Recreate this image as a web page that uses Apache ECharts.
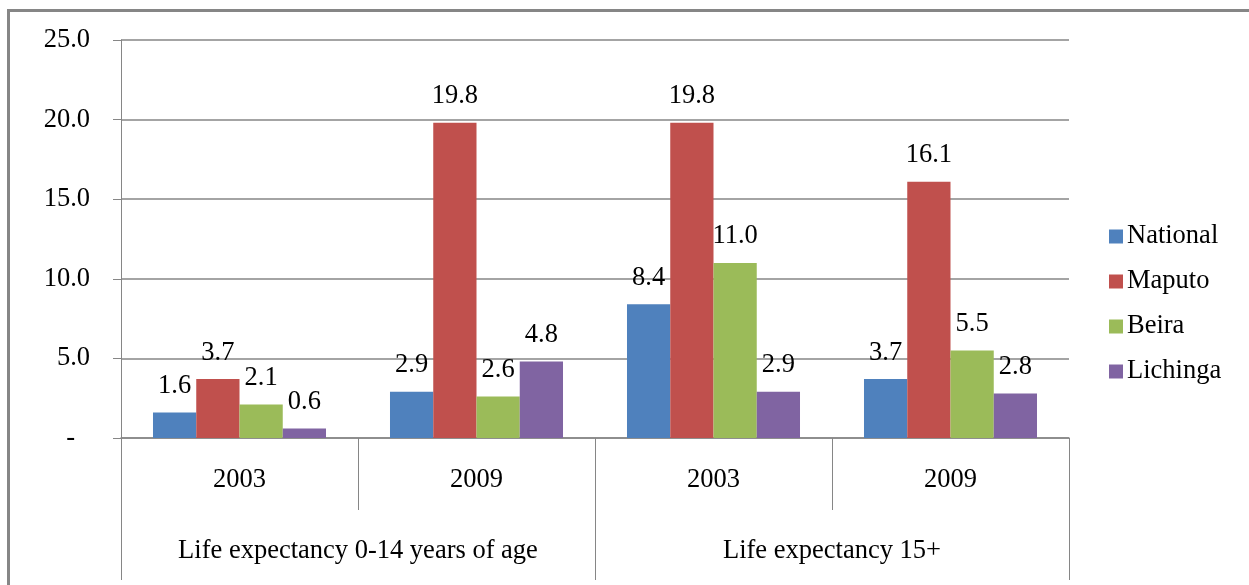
<!DOCTYPE html>
<html>
<head>
<meta charset="utf-8">
<style>
  html, body { margin: 0; padding: 0; background: #fff; }
  #chart { width: 1249px; height: 585px; }
</style>
<script src="https://cdn.jsdelivr.net/npm/echarts@6/dist/echarts.min.js"></script>
</head>
<body>
<div id="chart"></div>
<script>
  // years (first level) and groups (second level) of the category axis
  const years = ['2003', '2009', '2003', '2009'];
  const groups = ['Life expectancy 0-14 years of age', 'Life expectancy 15+'];
  const national = [1.6, 2.9, 8.4, 3.7];
  const maputo = [3.7, 19.8, 19.8, 16.1];
  const beira = [2.1, 2.6, 11.0, 5.5];
  const lichinga = [0.6, 4.8, 2.9, 2.8];

  const font = 'Liberation Serif';
  const fs = 26.5;
  const grey = '#868686';

  function makeSeries(name, data, color) {
    return {
      name: name,
      type: 'bar',
      xAxisIndex: 0,
      data: data,
      barGap: 0,
      barCategoryGap: '27%',
      itemStyle: { color: color },
      label: {
        show: true,
        position: 'top',
        distance: 13,
        color: '#000',
        fontFamily: font,
        fontSize: fs,
        formatter: (p) => p.value.toFixed(1)
      }
    };
  }

  let myChart = echarts.init(document.getElementById('chart'));
  myChart.setOption({
    animation: false,
    textStyle: { fontFamily: font },
    graphic: [{
      type: 'rect',
      shape: { x: 8.5, y: 10.5, width: 1400, height: 800 },
      style: { fill: 'none', stroke: grey, lineWidth: 3 }
    }],
    grid: { left: 121, right: 180, top: 40, bottom: 147 },
    legend: {
      orient: 'vertical',
      left: 1104,
      top: 218,
      padding: 5,
      itemWidth: 14,
      itemHeight: 14,
      itemGap: 18,
      icon: 'rect',
      textStyle: { color: '#000', fontFamily: font, fontSize: fs, lineHeight: 26, padding: [0, 0, 0, -1] },
      data: ['National', 'Maputo', 'Beira', 'Lichinga']
    },
    xAxis: [{
      type: 'category',
      position: 'bottom',
      data: years,
      axisLine: { lineStyle: { color: grey, width: 1.5 } },
      axisTick: { show: true, interval: 0, length: 72, lineStyle: { color: grey } },
      axisLabel: { interval: 0, margin: 29, color: '#000', fontFamily: font, fontSize: fs }
    }, {
      type: 'category',
      position: 'bottom',
      data: groups,
      axisLine: { show: false },
      axisTick: { show: true, interval: 0, length: 142, lineStyle: { color: grey } },
      axisLabel: { interval: 0, margin: 100, color: '#000', fontFamily: font, fontSize: fs }
    }],
    yAxis: {
      type: 'value',
      min: 0,
      max: 25,
      interval: 5,
      axisLine: { show: true, lineStyle: { color: grey } },
      axisTick: { show: true, length: 8, lineStyle: { color: grey } },
      splitLine: { lineStyle: { color: grey, width: 1.5 } },
      axisLabel: {
        margin: 31,
        color: '#000',
        fontFamily: font,
        fontSize: fs,
        formatter: (v) => v === 0 ? '{d|-}' : v.toFixed(1),
        rich: { d: { fontSize: fs, fontFamily: font, padding: [0, 15, 0, 0] } }
      }
    },
    series: [
      makeSeries('National', national, '#4F81BD'),
      makeSeries('Maputo', maputo, '#C0504D'),
      makeSeries('Beira', beira, '#9BBB59'),
      makeSeries('Lichinga', lichinga, '#8064A2')
    ]
  });
</script>
</body>
</html>
